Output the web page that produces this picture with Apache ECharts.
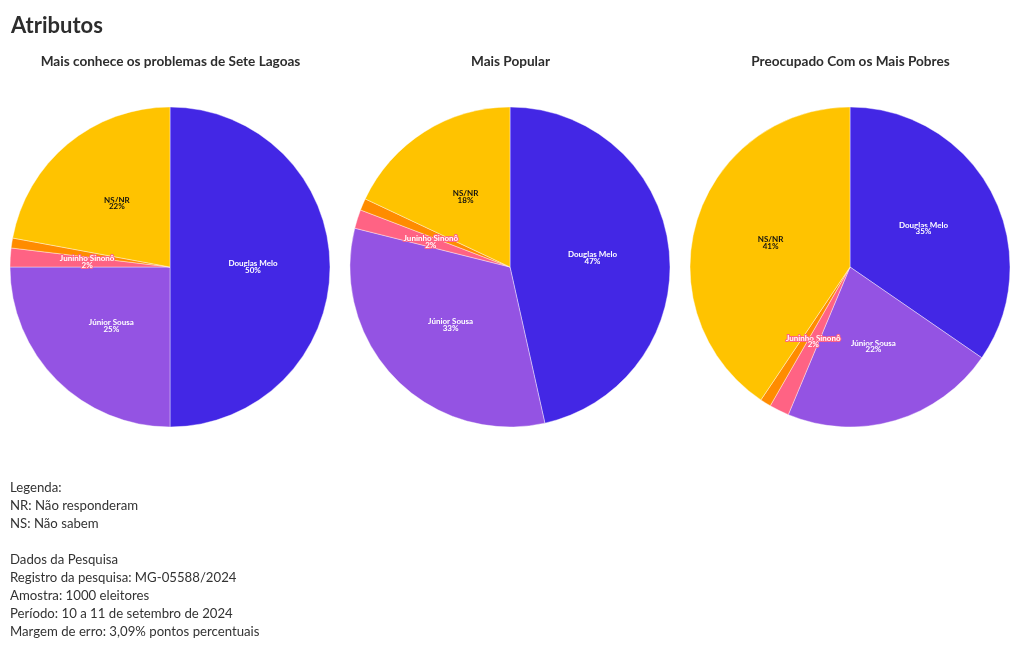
<!DOCTYPE html>
<html><head><meta charset="utf-8">
<script src="https://cdn.jsdelivr.net/npm/echarts@6/dist/echarts.min.js"></script>
<style>html,body{margin:0;padding:0;background:#fff}#c{width:1020px;height:650px}</style>
</head><body><div id="c"></div>
<script>
const categories = ['Douglas Melo', 'Júnior Sousa', 'Juninho Sinonô', 'Outros', 'NS/NR'];
const chartTitles = ['Mais conhece os problemas de Sete Lagoas', 'Mais Popular', 'Preocupado Com os Mais Pobres'];
const valuesConhece = [50, 25, 1.9, 1, 22.1];
const valuesPopular = [46.5, 32.4, 1.9, 1.2, 18];
const valuesPobres = [34.6, 21.7, 2, 1.1, 40.6];
const labelsConhece = ['50%', '25%', '2%', '', '22%'];
const labelsPopular = ['47%', '33%', '2%', '', '18%'];
const labelsPobres = ['35%', '22%', '2%', '', '41%'];
const colors = ['#4327E5', '#9453E3', '#FF6384', '#FF8C00', '#FFC300'];
const textColors = ['#ffffff', '#ffffff', '#ffffff', '#ffffff', '#111111'];
const footer = ['Legenda:', 'NR: Não responderam', 'NS: Não sabem', '', 'Dados da Pesquisa', 'Registro da pesquisa: MG-05588/2024', 'Amostra: 1000 eleitores', 'Período: 10 a 11 de setembro de 2024', 'Margem de erro: 3,09% pontos percentuais'];

const FONT = 'Lato, "Noto Sans", sans-serif';
const allValues = [valuesConhece, valuesPopular, valuesPobres];
const allLabels = [labelsConhece, labelsPopular, labelsPobres];
const centersX = [170, 510, 850];

const chart = echarts.init(document.getElementById('c'), null, {renderer: 'canvas'});

const titles = [{
  text: 'Atributos', left: 6, top: 10,
  textStyle: {fontFamily: FONT, fontSize: 22, fontWeight: 'bold', color: '#2d2d2d'}
}];
chartTitles.forEach((t, i) => titles.push({
  text: t, left: centersX[i] - 4.5, top: 50, textAlign: 'center',
  textStyle: {fontFamily: FONT, fontSize: 13.6, fontWeight: 'bold', color: '#2d2d2d'}
}));

const series = allValues.map((vals, i) => ({
  type: 'pie',
  center: [centersX[i], 267],
  radius: [0, 160],
  startAngle: 90,
  clockwise: true,
  animation: false,
  silent: true,
  avoidLabelOverlap: false,
  itemStyle: {borderColor: '#ffffff', borderWidth: 0.4},
  labelLine: {show: false},
  data: categories.map((c, j) => ({
    name: c,
    value: vals[j],
    itemStyle: {color: colors[j]},
    label: {
      show: allLabels[i][j] !== '',
      position: 'inside',
      formatter: c + '\n' + allLabels[i][j],
      color: textColors[j],
      fontFamily: FONT,
      fontSize: 8,
      fontWeight: 'bold',
      lineHeight: 6.5,
      textBorderColor: colors[j],
      textBorderWidth: 2
    }
  }))
}));

const graphic = footer.map((line, k) => ({
  type: 'text', left: 10, top: 481 + k * 18,
  style: {text: line, fontFamily: FONT, fontSize: 13.2, fill: '#333333'}
}));

chart.setOption({
  backgroundColor: '#ffffff',
  title: titles,
  series: series,
  graphic: graphic
});
</script>
</body></html>
